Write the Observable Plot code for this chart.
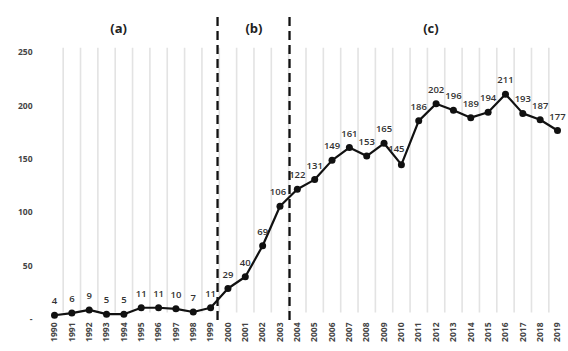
<!DOCTYPE html>
<html>
<head>
<meta charset="utf-8">
<script src="https://cdn.jsdelivr.net/npm/d3@7"></script>
<script src="https://cdn.jsdelivr.net/npm/@observablehq/plot@0.6"></script>
<style>
  html, body { margin: 0; padding: 0; background: #fff; }
  #chart svg { display: block; }
</style>
</head>
<body>
<div id="chart"></div>
<script>
// Annual counts, 1990–2019
const years = d3.range(1990, 2020);
const counts = [4, 6, 9, 5, 5, 11, 11, 10, 7, 11,
                29, 40, 69, 106, 122, 131, 149, 161, 153, 165,
                145, 186, 202, 196, 189, 194, 211, 193, 187, 177];

// Period boundaries (dashed) and period labels
const periodBreaks = [1999.4, 2003.55];
const periodNames = ["(a)", "(b)", "(c)"];
const periodLabelX = [1993.7, 2001.5, 2011.7];

const yTicks = [0, 50, 100, 150, 200, 250];

const data = years.map((year, i) => ({year, value: counts[i]}));
const gridYears = d3.range(1990.5, 2019, 1);
const periods = periodNames.map((name, i) => ({name, x: periodLabelX[i]}));

// value labels sit above each point; the dip in 2010 is nudged left off the line
const labelDx = d => (d.year === 2010 ? -5 : d.year === 2003 ? -2 : 0);

const font = "'Open Sans', 'DejaVu Sans', sans-serif";

const chart = Plot.plot({
  width: 568,
  height: 351,
  marginLeft: 54,
  marginRight: 11,
  marginTop: 52,
  marginBottom: 32,
  style: {fontFamily: font, background: "#fff", overflow: "visible"},
  x: {type: "linear", domain: [1990, 2019]},
  y: {domain: [0, 250]},
  marks: [
    Plot.ruleX(gridYears, {x: d => d, y1: 6, y2: 254, stroke: "#e3e3e3", strokeWidth: 1.6}),
    Plot.ruleX(periodBreaks, {x: d => d, y1: -1, y2: 286, stroke: "#111", strokeWidth: 2.3, strokeDasharray: "9,5"}),
    Plot.line(data, {x: "year", y: "value", stroke: "#111", strokeWidth: 2.2}),
    Plot.dot(data, {x: "year", y: "value", r: 3.5, fill: "#111"}),
    Plot.text(data.filter(d => labelDx(d) === 0), {x: "year", y: "value", text: d => String(d.value), dy: -14,
      fontSize: 9.5, fontWeight: 600, fill: "#333"}),
    Plot.text(data.filter(d => d.year === 2010), {x: "year", y: "value", text: d => String(d.value), dy: -16, dx: -5,
      fontSize: 9.5, fontWeight: 600, fill: "#333"}),
    Plot.text(data.filter(d => d.year === 2003), {x: "year", y: "value", text: d => String(d.value), dy: -14, dx: -2,
      fontSize: 9.5, fontWeight: 600, fill: "#333"}),
    Plot.text(periods, {x: "x", y: 272, text: "name", fontSize: 13, fontWeight: 700, fill: "#222"}),
    Plot.axisY({ticks: yTicks, tickSize: 0, tickPadding: 22, fontSize: 8.5, fontWeight: 700,
      color: "#444", tickFormat: d => d === 0 ? "-" : String(d), label: null}),
    Plot.axisX({ticks: years, tickSize: 0, tickPadding: 3, tickRotate: -90, fontSize: 8.5,
      fontWeight: 700, color: "#444", tickFormat: d => String(d), label: null})
  ]
});

document.getElementById("chart").appendChild(chart);
</script>
</body>
</html>
